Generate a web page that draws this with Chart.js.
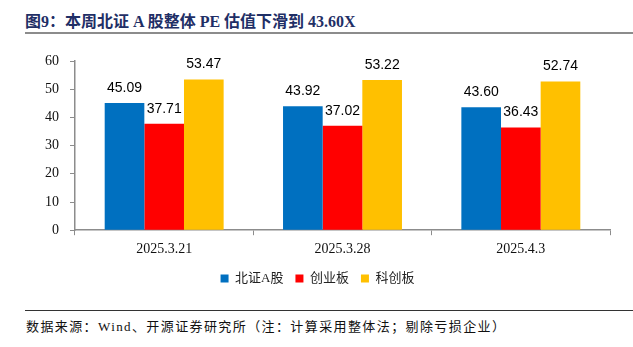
<!DOCTYPE html>
<html>
<head>
<meta charset="utf-8">
<script src="https://cdn.jsdelivr.net/npm/chart.js@4.4.1/dist/chart.umd.min.js"></script>
<style>
  html, body { margin: 0; padding: 0; background: #fff; }
  body { width: 633px; height: 347px; position: relative; overflow: hidden; }
  #title {
    position: absolute; left: 25px; top: 8px;
    font: bold 16px "Liberation Serif", "Noto Sans CJK SC", serif;
    color: #1f2f66; white-space: nowrap;
  }
  #topLine { position: absolute; left: 25px; right: 0; top: 32px; height: 2px; background: #8c8c8c; }
  #chartBox { position: absolute; left: 0; top: 40px; width: 633px; height: 255px; }
  #bottomLine { position: absolute; left: 25px; right: 0; top: 310px; height: 1px; background: #333; }
  #source {
    position: absolute; left: 26px; top: 316px;
    font: 13px "Liberation Serif", "Noto Sans CJK SC", serif;
    letter-spacing: 1.4px; color: #111; white-space: nowrap;
  }
</style>
</head>
<body>
<div id="title">图9：本周北证 A 股整体 PE 估值下滑到 43.60X</div>
<div id="topLine"></div>
<div id="chartBox"><canvas id="peChart"></canvas></div>
<div id="bottomLine"></div>
<div id="source">数据来源：Wind、开源证券研究所（注：计算采用整体法；剔除亏损企业）</div>

<script>
// ---------- DATA ----------
const dates = ["2025.3.21", "2025.3.28", "2025.4.3"];
const bseA = [45.09, 43.92, 43.60];     // 北证A股
const chinext = [37.71, 37.02, 36.43];  // 创业板
const star = [53.47, 53.22, 52.74];     // 科创板
const yTicks = [0, 10, 20, 30, 40, 50, 60];

// ---------- VALUE LABELS ----------
const valueLabels = {
  id: "valueLabels",
  afterDatasetsDraw(chart) {
    const ctx = chart.ctx;
    ctx.save();
    ctx.font = "14px 'Liberation Sans', 'Noto Sans', sans-serif";
    ctx.fillStyle = "#000";
    ctx.textAlign = "center";
    ctx.textBaseline = "bottom";
    chart.data.datasets.forEach((ds, i) => {
      chart.getDatasetMeta(i).data.forEach((bar, j) => {
        ctx.fillText(ds.data[j].toFixed(2), bar.x, bar.y - 8);
      });
    });
    ctx.restore();
  }
};

new Chart(document.getElementById("peChart"), {
  type: "bar",
  data: {
    labels: dates,
    datasets: [
      { label: "北证A股", data: bseA, backgroundColor: "#0070c0" },
      { label: "创业板", data: chinext, backgroundColor: "#ff0000" },
      { label: "科创板", data: star, backgroundColor: "#ffc000" }
    ]
  },
  options: {
    responsive: true,
    maintainAspectRatio: false,
    animation: false,
    datasets: { bar: { categoryPercentage: 0.667, barPercentage: 1.0, borderWidth: 0 } },
    layout: { padding: { left: 25, right: 23, top: 21, bottom: 0 } },
    plugins: {
      tooltip: { enabled: false },
      legend: {
        position: "bottom",
        labels: {
          boxWidth: 8, boxHeight: 8, padding: 12, color: "#222",
          font: { family: "'Liberation Serif', 'Noto Sans CJK SC', serif", size: 13 }
        }
      }
    },
    scales: {
      x: {
        offset: true,
        afterFit: (s) => { s.height -= 4; },
        grid: { offset: true, drawOnChartArea: false, drawTicks: true, tickLength: 5, color: "#8c8c8c" },
        border: { color: "#8c8c8c", width: 1.5 },
        ticks: { color: "#111", padding: 6, font: { family: "'Liberation Serif', serif", size: 14 } }
      },
      y: {
        min: 0, max: 60,
        afterBuildTicks: (s) => { s.ticks = yTicks.map(v => ({ value: v })); },
        afterFit: (s) => { s.width = 50; },
        grid: { drawOnChartArea: false, drawTicks: true, tickLength: 5, color: "#8c8c8c" },
        border: { color: "#8c8c8c", width: 1.5 },
        ticks: { color: "#111", padding: 11, font: { family: "'Liberation Serif', serif", size: 14 } }
      }
    }
  },
  plugins: [valueLabels]
});
</script>
</body>
</html>
